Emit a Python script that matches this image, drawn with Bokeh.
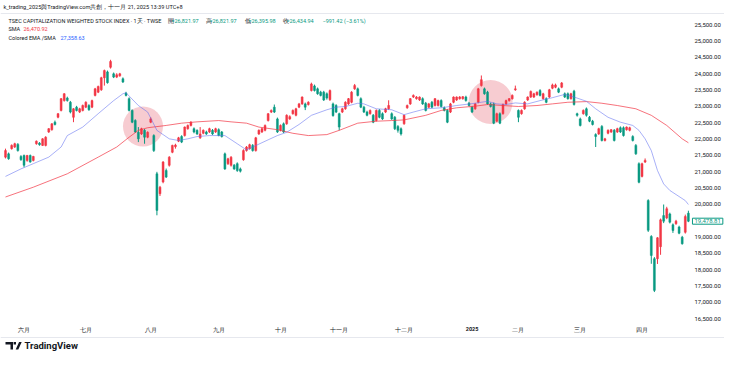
from bokeh.plotting import figure
from bokeh.models import (ColumnDataSource, FixedTicker, NumeralTickFormatter, Label,
                          Range1d, LinearAxis, PolyAnnotation, Span)
from bokeh.embed import file_html
from bokeh.resources import INLINE

# ---------------- data ----------------
opens = [21440, 21540, 21700, 21750, 21830, 21460, 21490, 21340, 21490, 21340,
         21850, 21870, 21800, 21800, 22210, 22280, 22510, 22660, 22870, 23170,
         23250, 23120, 22660, 22970, 22820, 22870, 22970, 23020, 22970, 23330,
         23430, 23500, 23870, 24050, 24190, 23990, 23890, 23930, 23840, 23400,
         23230, 22870, 22560, 22200, 22150, 22260, 22050, 22510, 22100, 20930,
         20320, 20680, 21030, 21190, 21590, 21760, 21930, 22070, 22100, 22310,
         22410, 22310, 22260, 22030, 22170, 22210, 22210, 22260, 22210, 22280,
         22210, 21540, 21240, 21190, 21190, 21240, 21080, 21360, 21640, 21700,
         21800, 21640, 22150, 22210, 22260, 22560, 22820, 22970, 22610, 22260,
         22460, 22460, 22610, 22770, 22720, 22970, 23070, 23070, 23050, 23480,
         23620, 23530, 23430, 23430, 23380, 23200, 23070, 23020, 22770, 22820,
         22920, 23070, 23120, 23530, 23530, 23230, 22970, 22820, 22770, 22720,
         22560, 22870, 22770, 22820, 22920, 22770, 22660, 22380, 22310, 22460,
         22950, 23070, 23280, 23230, 23190, 23230, 23090, 22970, 23120, 23020,
         23020, 23170, 22950, 22870, 22820, 23120, 23190, 23230, 23230, 23280,
         23090, 22970, 22920, 23120, 23630, 23530, 23430, 23070, 23070, 22540,
         22770, 22770, 23070, 23170, 23230, 23500, 22870, 22770, 22920, 23190,
         23280, 23280, 23350, 23480, 23230, 23230, 23280, 23550, 23580, 23530,
         23580, 23380, 23380, 23230, 23460, 22770, 22610, 22770, 22920, 22660,
         22540, 22130, 22150, 22380, 21950, 22170, 22210, 22260, 22210, 22340,
         22340, 22280, 22260, 22070, 21800, 21240, 20850, 21290, 20110, 19010,
         18330, 18330, 18700, 19650, 19580, 19700, 19370, 19400, 19300, 18990,
         19140, 19725]
highs = [21700, 21580, 21830, 21880, 21870, 21500, 21520, 21510, 21520, 21480,
         21950, 21900, 22020, 22080, 22330, 22480, 22560, 22790, 23250, 23400,
         23290, 23160, 22940, 23010, 22950, 23050, 23150, 23060, 23200, 23560,
         23630, 23900, 24120, 24090, 24420, 24030, 24010, 24020, 23880, 23440,
         23270, 22900, 22600, 22360, 22340, 22300, 22230, 22660, 22140, 20990,
         20560, 21320, 21090, 21470, 21820, 21850, 22060, 22110, 22380, 22440,
         22540, 22350, 22290, 22360, 22290, 22250, 22340, 22300, 22340, 22320,
         22240, 21580, 21420, 21470, 21230, 21280, 21120, 21680, 21780, 21850,
         21840, 22060, 22290, 22340, 22440, 22790, 22900, 23050, 22650, 22440,
         22500, 22750, 22720, 22900, 22950, 23100, 23300, 23110, 23150, 23720,
         23660, 23570, 23470, 23470, 23420, 23510, 23110, 23060, 22800, 22950,
         23150, 23250, 23460, 23680, 23570, 23270, 23010, 22860, 22900, 22760,
         22900, 22910, 22810, 22950, 23180, 22810, 22700, 22420, 22350, 22740,
         23050, 23250, 23360, 23310, 23300, 23270, 23130, 23100, 23160, 23250,
         23200, 23210, 22990, 22910, 23100, 23300, 23300, 23310, 23310, 23320,
         23130, 23010, 23100, 23560, 23940, 23570, 23470, 23110, 23110, 22800,
         22810, 23080, 23200, 23250, 23360, 23630, 22900, 22900, 23150, 23300,
         23480, 23410, 23450, 23520, 23410, 23270, 23530, 23690, 23690, 23570,
         23740, 23420, 23420, 23410, 23500, 22800, 22650, 22900, 22960, 22700,
         22580, 22170, 22340, 22420, 22030, 22290, 22300, 22300, 22340, 22380,
         22380, 22380, 22370, 22110, 21840, 21280, 21270, 21400, 20150, 19050,
         18380, 18990, 19560, 19990, 19920, 19740, 19410, 19520, 19340, 19030,
         19680, 19800]
lows = [21400, 21360, 21670, 21720, 21610, 21330, 21130, 21300, 21270, 21310,
        21820, 21790, 21780, 21770, 22180, 22250, 22410, 22630, 22840, 23140,
        23140, 22780, 22510, 22840, 22790, 22840, 22940, 22860, 22940, 23300,
        23400, 23470, 23630, 23690, 24150, 23860, 23860, 23900, 23710, 23300,
        22840, 22480, 22180, 21900, 22120, 21850, 22020, 22480, 21600, 19660,
        20250, 20640, 20800, 21150, 21560, 21700, 21900, 21870, 22070, 22280,
        22380, 22170, 22120, 22000, 22140, 22120, 22180, 22120, 22180, 22080,
        22040, 21050, 21200, 21150, 21050, 20990, 20970, 21330, 21610, 21670,
        21610, 21610, 22120, 22180, 22230, 22530, 22790, 22790, 22180, 22230,
        22180, 22430, 22580, 22740, 22690, 22940, 23040, 22880, 23020, 23450,
        23450, 23350, 23300, 23160, 23200, 23160, 22680, 22790, 22260, 22790,
        22890, 23040, 23090, 23500, 23300, 22940, 22790, 22690, 22740, 22480,
        22530, 22630, 22580, 22790, 22890, 22580, 22270, 22190, 22100, 22430,
        22920, 23040, 23250, 23200, 23160, 23040, 22840, 22940, 22940, 22990,
        22990, 22960, 22840, 22480, 22790, 23090, 23160, 23200, 23200, 23140,
        22990, 22790, 22890, 23090, 23600, 23350, 23040, 22960, 22450, 22510,
        22450, 22740, 23040, 23140, 23200, 23470, 22510, 22740, 22890, 23160,
        23250, 23250, 23320, 23300, 23200, 23090, 23250, 23520, 23550, 23400,
        23550, 23250, 23200, 23200, 23020, 22680, 22380, 22740, 22680, 22510,
        22410, 21750, 22120, 21920, 21920, 22140, 22180, 21920, 22180, 22180,
        22070, 22250, 22230, 21920, 21510, 20640, 20820, 21260, 19150, 18175,
        17310, 18170, 18450, 19420, 19540, 19410, 19120, 19370, 19080, 18760,
        19100, 19450]
closes = [21640, 21390, 21800, 21850, 21640, 21360, 21190, 21490, 21290, 21460,
          21930, 21820, 22000, 22050, 22310, 22460, 22440, 22770, 23230, 23380,
          23170, 22820, 22920, 22870, 22920, 23020, 23120, 22890, 23170, 23530,
          23600, 23870, 24090, 23720, 24370, 23890, 23960, 23990, 23740, 23330,
          22870, 22510, 22210, 22000, 22310, 22050, 22200, 22610, 21640, 19810,
          20520, 21290, 20830, 21440, 21800, 21810, 22030, 21900, 22360, 22410,
          22510, 22210, 22150, 22150, 22260, 22150, 22310, 22150, 22310, 22100,
          22070, 21080, 21390, 21440, 21080, 21030, 21010, 21640, 21750, 21820,
          21640, 22030, 22260, 22310, 22410, 22770, 22870, 22820, 22210, 22410,
          22210, 22720, 22680, 22870, 22920, 23070, 23280, 22970, 23120, 23680,
          23480, 23380, 23330, 23190, 23250, 23480, 22710, 22820, 22360, 22920,
          23120, 23230, 23430, 23630, 23330, 22970, 22820, 22720, 22870, 22510,
          22870, 22660, 22610, 22920, 23020, 22610, 22310, 22260, 22150, 22720,
          23020, 23230, 23330, 23280, 23280, 23070, 22870, 23070, 22970, 23230,
          23170, 22990, 22870, 22510, 23070, 23280, 23280, 23280, 23290, 23170,
          23020, 22820, 23070, 23530, 23810, 23380, 23070, 22990, 22480, 22770,
          22480, 23050, 23170, 23230, 23330, 23530, 22660, 22870, 23120, 23280,
          23450, 23380, 23430, 23330, 23380, 23120, 23500, 23650, 23650, 23430,
          23710, 23280, 23230, 23380, 23050, 22720, 22410, 22870, 22720, 22540,
          22440, 22070, 22310, 21950, 22000, 22260, 22280, 21950, 22310, 22210,
          22100, 22360, 22340, 21950, 21540, 20670, 21240, 21340, 19200, 18430,
          17360, 18970, 19520, 19480, 19860, 19450, 19195, 19480, 19110, 18790,
          19620, 19478.81]

# moving-average lines, sampled at bar indices
sma_idx = [0, 9, 20, 30, 36, 40, 43, 46, 52, 57, 62, 69, 73, 78, 82, 88, 93, 98, 104,
           108, 114, 120, 125, 129, 136, 141, 146, 152, 156, 161, 166, 172, 177,
           182, 188, 193, 198, 204, 209, 214, 219, 221]
sma_val = [20220, 20520, 20930, 21440, 21750, 22050, 22260, 22340, 22410, 22480,
           22520, 22560, 22520, 22480, 22360, 22280, 22170, 22100, 22130, 22260,
           22480, 22540, 22560, 22580, 22720, 22870, 22950, 23000, 23050, 23020,
           22990, 23020, 23070, 23120, 23140, 23090, 23020, 22920, 22720, 22410,
           22000, 21880]
ema_idx = [0, 5, 9, 14, 18, 20, 25, 30, 35, 38, 39, 43, 46, 49, 53, 56, 59, 62, 66,
           71, 75, 78, 80, 85, 88, 91, 95, 99, 104, 107, 110, 114, 116, 120, 125,
           129, 132, 136, 141, 146, 152, 154, 156, 159, 162, 165, 169, 173, 177,
           181, 184, 188, 191, 195, 199, 203, 205, 207, 209, 211, 213, 215, 220, 221]
ema_val = [20850, 21080, 21240, 21440, 21750, 22100, 22360, 22770, 23170, 23380,
           23410, 23020, 22820, 22260, 22000, 21950, 22000, 22070, 22100, 22100,
           21850, 21660, 21750, 21970, 22100, 22200, 22440, 22720, 22890, 22970,
           22990, 23090, 23070, 22920, 22890, 22740, 22820, 22920, 22950, 23020,
           23090, 23120, 23150, 23070, 23050, 23100, 23070, 23170, 23260, 23360,
           23280, 23150, 22920, 22660, 22510, 22410, 22260, 22000, 21640, 21030,
           20620, 20420, 20110, 19990]

# highlighted areas (pink circles)
hl_idx = [44.5, 157]
hl_price = [22378, 23128]

month_ticks = [6, 26, 47, 69, 89, 108, 129, 151, 166, 186, 206]
month_labels = ["六月", "七月", "八月", "九月", "十月", "十一月", "十二月", "2025",
                "二月", "三月", "四月"]
price_ticks = [t for t in range(16500, 25501, 500) if t != 19500]
last_price = 19478.81

header = "k_trading_2025與TradingView.com共創，十一月 21, 2025 13:39 UTC+8"
legend1 = [("TSEC CAPITALIZATION WEIGHTED STOCK INDEX · 1天 · TWSE", "dark", 8),
           ("開", "dark", 167), ("=26,821.97", "green", 171),
           ("高", "dark", 205), ("=26,821.97", "green", 209),
           ("低", "dark", 244), ("=26,395.98", "green", 248),
           ("收", "dark", 282), ("=26,434.94", "green", 286),
           ("−991.42 (−3.61%)", "green", 322)]
legend2 = [("SMA", "dark", 8), ("26,470.92", "red", 23)]
legend3 = [("Colored EMA /SMA", "dark", 8), ("27,358.63", "blue", 60)]

# ---------------- styling ----------------
UP = "#F23645"     # rising candle (red in Taiwan)
DOWN = "#089981"   # falling candle (green)
DARK = "#131722"
BLUE = "#2962FF"
COL = {"dark": DARK, "green": DOWN, "red": UP, "blue": BLUE}
FONT = "Roboto"

idx = list(range(len(closes)))
src = ColumnDataSource(dict(
    x=idx, o=opens, h=highs, l=lows, c=closes,
    top=[max(a, b) for a, b in zip(opens, closes)],
    bottom=[min(a, b) for a, b in zip(opens, closes)],
    color=[UP if c >= o else DOWN for o, c in zip(opens, closes)],
))

# The frame covers the whole canvas; both axes are pinned inside it.
W, H = 724, 351
X0, X1 = -1.618, 232.69       # bar-index range across the canvas
Y0, Y1 = 15490, 26235         # price range across the canvas
X_AXIS_AT = 16348             # price level of the time axis line
Y_AXIS_AT = 222.0             # bar index of the price axis line

p = figure(width=W, height=H, output_backend="svg", toolbar_location=None,
           x_range=Range1d(X0, X1), y_range=Range1d(Y0, Y1),
           x_axis_location=None, y_axis_location=None, min_border=0)
p.outline_line_color = None
p.grid.visible = False
p.background_fill_color = "white"
p.border_fill_color = "white"

# faint panel separators
for yy in [H - 13, H - 337]:
    p.add_layout(Span(location=yy, location_units="screen", dimension="width",
                      line_color="#e6e8ee", line_width=1))

# highlight circles
p.scatter(x=hl_idx, y=hl_price, size=[40, 44], fill_color="#ef9aa4",
          fill_alpha=0.5, line_color=None)

# candles
p.segment(x0="x", y0="l", x1="x", y1="h", color="color", line_width=1, source=src)
p.vbar(x="x", top="top", bottom="bottom", width=0.62, fill_color="color",
       line_color="color", line_width=0.5, source=src)

# moving averages
p.line(sma_idx, sma_val, line_color="#F23645", line_alpha=0.7, line_width=1)
p.line(ema_idx, ema_val, line_color="#6170F0", line_alpha=0.55, line_width=1)


def style_axis(ax, size):
    ax.major_label_text_font_size = size
    ax.major_label_text_color = DARK
    ax.major_label_text_font = FONT
    ax.axis_line_color = None
    ax.major_tick_line_color = None
    ax.minor_tick_line_color = None
    ax.major_tick_out = 0
    ax.major_tick_in = 0


# time axis (month names)
xa = LinearAxis(ticker=FixedTicker(ticks=month_ticks), fixed_location=X_AXIS_AT,
                major_label_overrides={t: ("" if l == "2025" else l)
                                       for t, l in zip(month_ticks, month_labels)})
style_axis(xa, "5.5px")
xa.major_label_standoff = 4
p.add_layout(xa, "below")

# bold year label on the same line
year_ticks = [t for t, l in zip(month_ticks, month_labels) if l == "2025"]
xy = LinearAxis(ticker=FixedTicker(ticks=year_ticks), fixed_location=X_AXIS_AT,
                major_label_overrides={t: "2025" for t in year_ticks})
style_axis(xy, "5.5px")
xy.major_label_standoff = 4
xy.major_label_text_font_style = "bold"
p.add_layout(xy, "below")

# price axis
ya = LinearAxis(ticker=FixedTicker(ticks=price_ticks), fixed_location=Y_AXIS_AT,
                formatter=NumeralTickFormatter(format="0,0.00"))
style_axis(ya, "6px")
ya.major_label_standoff = 3
p.add_layout(ya, "right")

# last price tag
p.add_layout(Label(x=Y_AXIS_AT, y=last_price, x_units="data", y_units="data",
                   x_offset=1, text=f"{last_price:,.2f}", text_font=FONT,
                   text_font_size="6px", text_color=DOWN, text_baseline="middle",
                   border_line_color=DOWN, border_line_width=1,
                   background_fill_color="white", padding=(2, 1)))

# header & legend texts (screen units from the canvas bottom-left)
p.add_layout(Label(x=3, y=H - 3.5, x_units="screen", y_units="screen", text=header,
                   text_font=FONT, text_font_size="5.6px", text_color=DARK,
                   text_baseline="top"))
for row, yy in [(legend1, H - 20), (legend2, H - 28.7), (legend3, H - 37)]:
    for txt, c, xx in row:
        p.add_layout(Label(x=xx, y=yy, x_units="screen", y_units="screen", text=txt,
                           text_font=FONT, text_font_size="5.5px", text_color=COL[c],
                           text_baseline="middle"))

# footer: TradingView logo
logo_color = "#131722"
for xs, ys in [([5, 12.5, 12.5, 10, 10, 5], [9.5, 9.5, 2, 2, 7, 7]),
               ([13.1, 15.5, 15.5, 13.1], [9.4, 9.4, 7.0, 7.0]),
               ([15.2, 18.6, 21.2, 17.8], [2, 9.5, 9.5, 2])]:
    p.add_layout(PolyAnnotation(xs=xs, ys=ys, xs_units="screen", ys_units="screen",
                                fill_color=logo_color, fill_alpha=1, line_color=None))
p.add_layout(Label(x=24, y=5.8, x_units="screen", y_units="screen", text="TradingView",
                   text_font=FONT, text_font_size="9.5px", text_font_style="bold",
                   text_color=logo_color, text_baseline="middle"))

open("out.html", "w").write(file_html(p, INLINE))
